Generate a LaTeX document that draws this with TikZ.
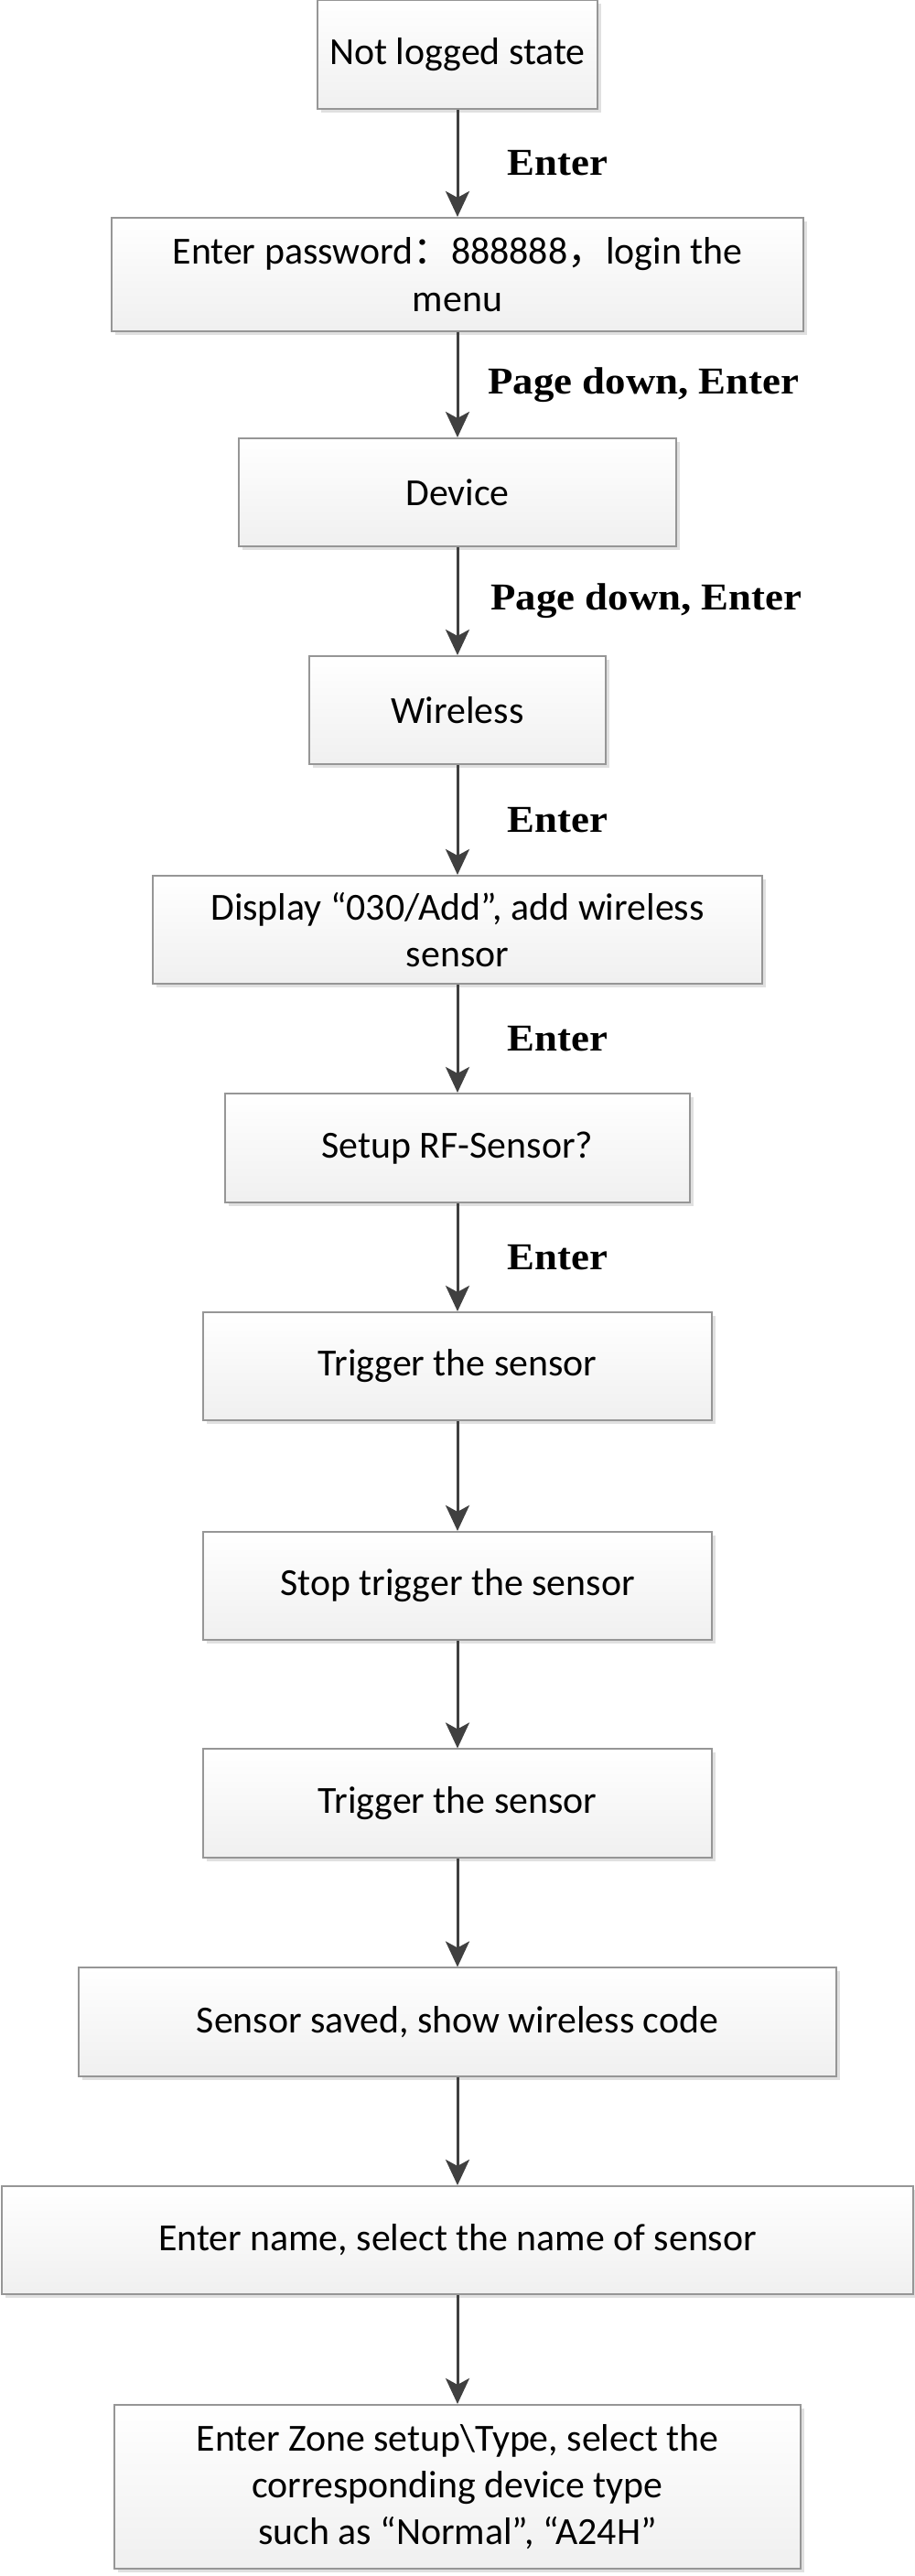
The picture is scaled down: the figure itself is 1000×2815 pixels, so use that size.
\documentclass[tikz,border=0pt]{standalone}
\usepackage{fontspec}
\setmainfont{Carlito}
\newfontfamily\lblfont[FakeStretch=1.08]{Liberation Serif}
\newfontfamily\cjk{Noto Sans CJK SC}
\usetikzlibrary{arrows.meta,shadows}
\definecolor{boxline}{RGB}{150,150,150}
\definecolor{flowline}{RGB}{64,64,64}
\tikzset{
  stepbox/.style={draw=boxline, line width=0.02cm, top color=white, bottom color=black!6,
    drop shadow={shadow xshift=0.04cm, shadow yshift=-0.04cm, fill=black!12, opacity=1},
    minimum height=1.18cm, align=center, inner sep=0pt, font=\fontsize{11.9}{14.6}\selectfont},
  flow/.style={draw=flowline, line width=0.03cm, -{Stealth[length=0.28cm, width=0.26cm, inset=0.07cm]}},
  keylbl/.style={anchor=west, inner sep=0pt, font=\lblfont\bfseries\fontsize{11.8}{13}\selectfont},
}
\begin{document}
\begin{tikzpicture}[x=0.01cm, y=-0.01cm]
    \useasboundingbox (0,0) rectangle (1000,2815);
    \node [stepbox, minimum width=3.05cm, minimum height=1.19cm] (idle) at (500,59.5) {Not logged state};
    \node [stepbox, minimum width=7.55cm, minimum height=1.24cm] (pass) at (500,300) {Enter password{\cjk ：}888888{\cjk ，}login the\\menu};
    \node [stepbox, minimum width=4.78cm] (device) at (500,538) {Device};
    \node [stepbox, minimum width=3.23cm] (wless) at (500,776) {Wireless};
    \node [stepbox, minimum width=6.65cm] (disp) at (500,1016) {Display “030/Add”, add wireless\\sensor};
    \node [stepbox, minimum width=5.08cm, minimum height=1.19cm] (setup) at (500,1254.5) {Setup RF-Sensor?};
    \node [stepbox, minimum width=5.56cm] (trig) at (500,1493) {Trigger the sensor};
    \node [stepbox, minimum width=5.56cm] (stop) at (500,1733) {Stop trigger the sensor};
    \node [stepbox, minimum width=5.56cm] (retrig) at (500,1970.5) {Trigger the sensor};
    \node [stepbox, minimum width=8.28cm] (saved) at (500,2209.5) {Sensor saved, show wireless code};
    \node [stepbox, minimum width=9.96cm] (name) at (500,2448) {Enter name, select the name of sensor};
    \node [stepbox, minimum width=7.49cm, minimum height=1.79cm] (zone) at (500,2717.5) {Enter Zone setup\textbackslash Type, select the\\corresponding device type\\such as “Normal”, “A24H”};

    \draw [flow] (idle) -- node [keylbl, xshift=0.53cm] (k1) {Enter} (pass);
    \draw [flow] (pass) -- node [keylbl, xshift=0.32cm] (k2) {Page down, Enter} (device);
    \draw [flow] (device) -- node [keylbl, xshift=0.35cm] (k3) {Page down, Enter} (wless);
    \draw [flow] (wless) -- node [keylbl, xshift=0.53cm] (k4) {Enter} (disp);
    \draw [flow] (disp) -- node [keylbl, xshift=0.53cm] (k5) {Enter} (setup);
    \draw [flow] (setup) -- node [keylbl, xshift=0.53cm] (k6) {Enter} (trig);
    \draw [flow] (trig) -- (stop);
    \draw [flow] (stop) -- (retrig);
    \draw [flow] (retrig) -- (saved);
    \draw [flow] (saved) -- (name);
    \draw [flow] (name) -- (zone);
  \end{tikzpicture}
\end{document}
